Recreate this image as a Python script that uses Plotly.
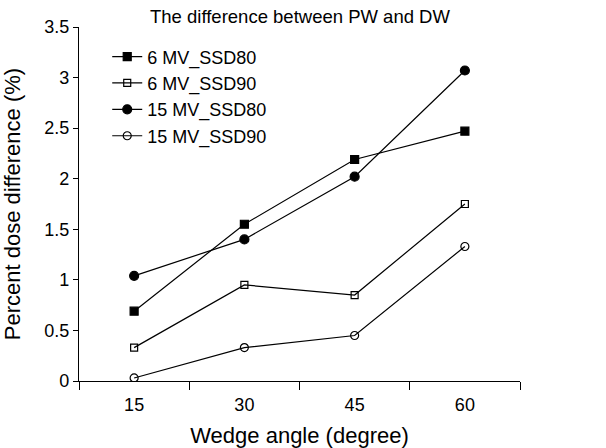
import plotly.graph_objects as go

wedge = [15, 30, 45, 60]
s6_80 = [0.69, 1.55, 2.19, 2.47]
s6_90 = [0.33, 0.95, 0.85, 1.75]
s15_80 = [1.04, 1.40, 2.02, 3.07]
s15_90 = [0.03, 0.33, 0.45, 1.33]
names = ["6 MV_SSD80", "6 MV_SSD90", "15 MV_SSD80", "15 MV_SSD90"]
y_ticks = [0, 0.5, 1, 1.5, 2, 2.5, 3, 3.5]
y_labels = ["0", "0.5", "1", "1.5", "2", "2.5", "3", "3.5"]

FONT = "Liberation Sans, Arial, sans-serif"
fig = go.Figure()
series = [(s6_80, "square", 8), (s6_90, "square-open", 7),
          (s15_80, "circle", 9), (s15_90, "circle-open", 8)]
for (vals, sym, sz), nm in zip(series, names):
    fig.add_trace(go.Scatter(
        x=wedge, y=vals, name=nm, mode="lines+markers",
        line=dict(color="black", width=1.2),
        marker=dict(symbol=sym, size=sz, color="black", line=dict(color="black", width=1.2)),
    ))

fig.update_layout(
    width=606, height=448,
    margin=dict(l=79, r=86, t=27, b=67),
    paper_bgcolor="white", plot_bgcolor="white",
    font=dict(family=FONT, size=18, color="black"),
    title=dict(text="The difference between PW and DW", x=0.495, xanchor="center",
               y=0.962, yanchor="middle", font=dict(size=18.5)),
    legend=dict(x=0.064, y=0.968, xanchor="left", yanchor="top", bgcolor="rgba(0,0,0,0)",
                font=dict(size=18), tracegroupgap=0, itemwidth=30),
    showlegend=True,
)
fig.update_xaxes(
    range=[7.5, 67.5], tickvals=wedge, ticktext=[str(w) for w in wedge],
    ticks="", showline=True, linecolor="black", linewidth=1.2, showgrid=False, zeroline=False,
    minor=dict(tickvals=[7.5, 22.5, 37.5, 52.5, 67.5], ticks="outside", ticklen=8,
               tickcolor="black", tickwidth=1.2, showgrid=False),
    ticklabelstandoff=7,
    title=dict(text="Wedge angle (degree)", standoff=14), tickfont=dict(size=18),
    automargin=False,
)
fig.update_yaxes(
    range=[0, 3.5], tickvals=y_ticks, ticktext=y_labels,
    ticks="outside", ticklen=5, tickcolor="black", tickwidth=1.2,
    showline=True, linecolor="black", linewidth=1.2, showgrid=False, zeroline=False,
    title=dict(text="Percent dose difference (%)", standoff=17), tickfont=dict(size=18),
    automargin=False,
)
fig.write_html("out.html", post_script="document.body.style.margin='0';",
               config={"displayModeBar": False})
